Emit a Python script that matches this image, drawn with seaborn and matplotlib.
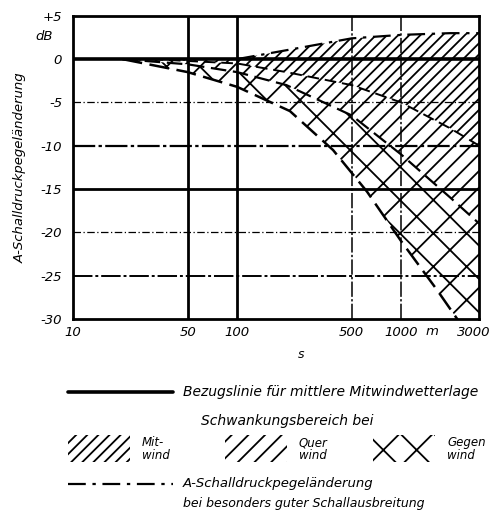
import matplotlib
matplotlib.use("Agg")
import matplotlib.pyplot as plt
import matplotlib.transforms as mtransforms
import seaborn as sns
import numpy as np
from matplotlib.lines import Line2D
from matplotlib.patches import Rectangle

# ---------------- data ----------------
x_ticks = [10, 50, 100, 500, 1000, 3000]
x_ticklabels = ["10", "50", "100", "500", "1000", "3000"]
y_ticks = [5, 0, -5, -10, -15, -20, -25, -30]
y_ticklabels = ["+5", "0", "-5", "-10", "-15", "-20", "-25", "-30"]

# upper dash-dot curve: especially good sound propagation
s_up = [100, 240, 500, 1000, 2000, 3000]
db_up = [0.0, 1.3, 2.4, 2.8, 3.0, 3.0]

# lower bound of the Mitwind range
s_mit = [30, 100, 200, 500, 1000, 2000, 3000]
db_mit = [0.0, -0.5, -1.5, -3.0, -5.0, -8.0, -10.0]

# lower bound of the Querwind range
s_quer = [20, 50, 100, 200, 500, 1000, 2000, 3000]
db_quer = [0.0, -0.6, -1.5, -3.0, -6.5, -11.0, -16.0, -19.0]

# lower bound of the Gegenwind range
s_gegen = [20, 50, 100, 210, 385, 620, 1000, 1650, 2200, 3000]
db_gegen = [0.0, -1.5, -3.2, -6.0, -10.5, -15.3, -21.0, -26.6, -30.0, -34.0]

# reference line
s_ref = [10, 3000]
db_ref = [0, 0]

# ---------------- style ----------------
sns.set_theme(style="white")
plt.rcParams["font.family"] = ["DejaVu Sans"]
plt.rcParams["text.color"] = "black"
plt.rcParams["xtick.color"] = "black"
plt.rcParams["ytick.color"] = "black"
plt.rcParams["axes.labelcolor"] = "black"
plt.rcParams["hatch.linewidth"] = 1.3
plt.rcParams["hatch.color"] = "black"

fig = plt.figure(figsize=(4.91, 5.11), dpi=100)
ax = fig.add_axes([0.149, 0.376, 0.827, 0.593])
ax.set_xscale("log")


def interp_on(s_src, db_src, s_grid):
    return np.interp(np.log10(s_grid), np.log10(s_src), db_src)


grid = np.logspace(1, np.log10(3000), 300)
up = np.where(grid >= s_up[0], interp_on(s_up, db_up, grid), 0.0)
mit = np.where(grid >= s_mit[0], interp_on(s_mit, db_mit, grid), 0.0)
quer = np.where(grid >= s_quer[0], interp_on(s_quer, db_quer, grid), 0.0)
geg = np.where(grid >= s_gegen[0], interp_on(s_gegen, db_gegen, grid), 0.0)

HATCH_MIT, HATCH_QUER, HATCH_GEG = "///", "//", "x"

# hatched ranges
ax.fill_between(grid, up, mit, facecolor="none", edgecolor="black",
                hatch=HATCH_MIT, linewidth=0)
ax.fill_between(grid, mit, quer, facecolor="none", edgecolor="black",
                hatch=HATCH_QUER, linewidth=0)
ax.fill_between(grid, quer, geg, facecolor="none", edgecolor="black",
                hatch=HATCH_GEG, linewidth=0)

# grid lines
hstyles = {-5: (0.9, (0, (6, 2, 1, 2))), -10: (1.6, (0, (10, 1.5, 1.5, 1.5))),
           -15: (2.0, "-"), -20: (0.9, (0, (6, 2, 1, 2))),
           -25: (1.4, (0, (10, 1.5, 1.5, 1.5)))}
for yv, (lw, ls) in hstyles.items():
    ax.axhline(yv, color="black", lw=lw, ls=ls, zorder=1)
vstyles = {50: (2.0, "-"), 100: (2.0, "-"),
           500: (1.1, (0, (10, 1.5, 1.5, 1.5))),
           1000: (1.1, (0, (10, 1.5, 1.5, 1.5)))}
for xv, (lw, ls) in vstyles.items():
    ax.axvline(xv, color="black", lw=lw, ls=ls, zorder=1)

# curves
sns.lineplot(x=s_ref, y=db_ref, ax=ax, color="black", lw=2.6, zorder=4)
sns.lineplot(x=s_up, y=db_up, ax=ax, color="black", lw=1.6,
             linestyle=(0, (8, 3, 1.5, 3)), zorder=4)
sns.lineplot(x=s_mit, y=db_mit, ax=ax, color="black", lw=1.4,
             linestyle=(0, (6, 3)), zorder=4)
sns.lineplot(x=s_quer, y=db_quer, ax=ax, color="black", lw=1.6,
             linestyle=(0, (7, 3)), zorder=4)
sns.lineplot(x=s_gegen, y=db_gegen, ax=ax, color="black", lw=1.8,
             linestyle=(0, (8, 3)), zorder=4)

ax.set_xlim(10, 3000)
ax.set_ylim(-30, 5)
ax.set_xticks(x_ticks)
ax.set_xticklabels(x_ticklabels, fontsize=9.5, style="italic")
ax.xaxis.set_minor_locator(matplotlib.ticker.NullLocator())
ax.set_yticks(y_ticks)
ax.set_yticklabels(y_ticklabels, fontsize=9.5, style="italic")
ax.tick_params(axis="y", length=0, pad=8)
ax.tick_params(axis="x", length=0, pad=5)
# shift the last x tick label slightly left so it stays inside the figure
last = ax.get_xticklabels()[-1]
last.set_transform(last.get_transform() +
                   mtransforms.ScaledTranslation(-5 / 100, 0, fig.dpi_scale_trans))
for sp in ax.spines.values():
    sp.set_color("black")
    sp.set_linewidth(2.0)
ax.set_xlabel("")
ax.set_ylabel("A-Schalldruckpegeländerung", fontsize=9.5, style="italic",
              labelpad=10)

ax.text(-0.05, 2.6, "dB", transform=ax.get_yaxis_transform(), ha="right",
        va="center", fontsize=9.5, style="italic")
ax.text(1550, -31.5, "m", ha="center", va="center", fontsize=9.5,
        style="italic")
fig.text(301 / 491, 1 - 354 / 511, "s", ha="center", va="center",
         fontsize=9, style="italic")

# ---------------- legend (figure coords) ----------------
def fx(px):
    return px / 491


def fy(py):
    return 1 - py / 511


fs = 9.5
fig.add_artist(Line2D([fx(68), fx(173)], [fy(392), fy(392)], color="black",
                      lw=2.6))
fig.text(fx(183), fy(392), "Bezugslinie für mittlere Mitwindwetterlage",
         fontsize=fs + 0.5, style="italic", va="center")
fig.text(fx(287), fy(421), "Schwankungsbereich bei", fontsize=fs + 0.5,
         style="italic", ha="center", va="center")

patches = [(68, HATCH_MIT, "Mit-\nwind"), (225, HATCH_QUER, "Quer\nwind"),
           (373, HATCH_GEG, "Gegen\nwind")]
for px, h, lab in patches:
    fig.add_artist(Rectangle((fx(px), fy(462)), fx(62), fy(435) - fy(462),
                             facecolor="none", edgecolor="black", hatch=h,
                             linewidth=0, transform=fig.transFigure))
    fig.text(fx(px + 74), fy(449), lab, fontsize=fs - 1, style="italic",
             va="center", linespacing=1.0)

fig.add_artist(Line2D([fx(68), fx(173)], [fy(484), fy(484)], color="black",
                      lw=1.6, linestyle=(0, (8, 3, 1.5, 3))))
fig.text(fx(183), fy(484), "A-Schalldruckpegeländerung", fontsize=fs,
         style="italic", va="center")
fig.text(fx(183), fy(503), "bei besonders guter Schallausbreitung",
         fontsize=fs - 0.5, style="italic", va="center")

fig.savefig("out.png", dpi=100, facecolor="white")
